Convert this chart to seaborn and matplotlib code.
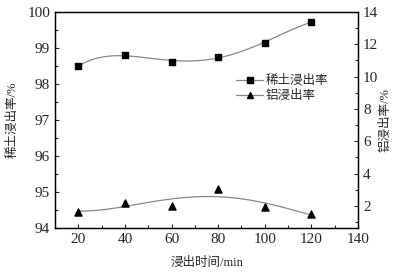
import matplotlib
matplotlib.use("Agg")
import matplotlib.pyplot as plt
from matplotlib.lines import Line2D
from matplotlib.ticker import MultipleLocator
import pandas as pd
import seaborn as sns

# leaching time (min)
time_min = [20, 40, 60, 80, 100, 120]
# rare earth leaching rate (%), left axis
re_rate = [98.49, 98.80, 98.62, 98.76, 99.15, 99.72]
# aluminium leaching rate (%), right axis
al_rate = [1.63, 2.19, 1.97, 3.02, 1.95, 1.47]

df = pd.DataFrame({"time": time_min, "re": re_rate, "al": al_rate})

sns.set_style("ticks")
plt.rcParams["font.family"] = ["Liberation Serif", "Noto Sans CJK SC"]
plt.rcParams["xtick.direction"] = "in"
plt.rcParams["ytick.direction"] = "in"

fig, ax = plt.subplots(figsize=(3.93, 2.73), dpi=100)
fig.subplots_adjust(left=0.14, right=0.911, top=0.956, bottom=0.165)

sns.regplot(data=df, x="time", y="re", order=4, ci=None, truncate=True, ax=ax,
            marker="s",
            scatter_kws={"color": "black", "s": 22, "alpha": 1, "zorder": 3},
            line_kws={"color": "#888888", "lw": 0.9})
ax.set_xlim(10, 140)
ax.set_ylim(94, 100)
ax.xaxis.set_major_locator(MultipleLocator(20))
ax.xaxis.set_minor_locator(MultipleLocator(10))
ax.yaxis.set_major_locator(MultipleLocator(1))
ax.yaxis.set_minor_locator(MultipleLocator(0.5))
ax.tick_params(labelsize=11, length=3, width=0.8)
ax.tick_params(which="minor", length=2, width=0.8)
ax.set_xlabel("浸出时间/min", fontsize=9, labelpad=8)
ax.set_ylabel("稀土浸出率/%", fontsize=9, labelpad=6)

ax2 = ax.twinx()
sns.regplot(data=df, x="time", y="al", order=4, ci=None, truncate=True, ax=ax2,
            marker="^",
            scatter_kws={"color": "black", "s": 26, "alpha": 1, "zorder": 3},
            line_kws={"color": "#888888", "lw": 0.9})
ax2.set_ylim(0.63, 14)
ax2.set_yticks([2, 4, 6, 8, 10, 12, 14])
ax2.yaxis.set_minor_locator(MultipleLocator(1))
ax2.tick_params(labelsize=11, length=3, width=0.8, direction="in")
ax2.tick_params(which="minor", length=2, width=0.8, direction="in")
ax2.set_ylabel("铝浸出率/%", fontsize=9, labelpad=1)
ax2.set_xlabel("")

for a in (ax, ax2):
    for s in a.spines.values():
        s.set_linewidth(0.9)
        s.set_color("black")

handles = [
    Line2D([], [], color="#888888", lw=0.9, marker="s", markersize=4.5,
           markerfacecolor="black", markeredgecolor="black"),
    Line2D([], [], color="#888888", lw=0.9, marker="^", markersize=5,
           markerfacecolor="black", markeredgecolor="black"),
]
ax2.legend(handles, ["稀土浸出率", "铝浸出率"], loc="upper left",
           bbox_to_anchor=(0.56, 0.76), frameon=False, fontsize=9,
           handlelength=2.2, handletextpad=0.2, labelspacing=0.25)

fig.savefig("out.png", dpi=100)
